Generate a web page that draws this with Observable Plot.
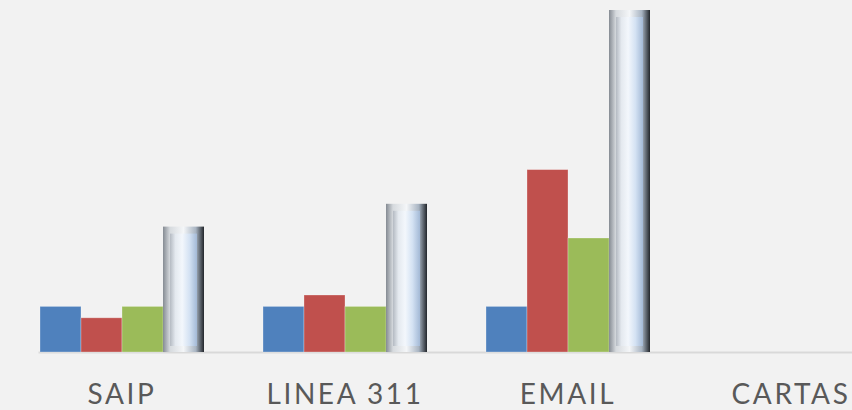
<!DOCTYPE html>
<html>
<head>
<meta charset="utf-8">
<script src="https://cdn.jsdelivr.net/npm/d3@7"></script>
<script src="https://cdn.jsdelivr.net/npm/@observablehq/plot@0.6"></script>
<style>
  html, body { margin: 0; padding: 0; background: #f2f2f2; overflow: hidden; width: 852px; height: 410px; }
  #chart { width: 852px; height: 410px; overflow: hidden; }
</style>
</head>
<body>
<div id="chart"></div>
<script>
const categories = ["SAIP", "LINEA 311", "EMAIL", "CARTAS"];
const seriesNames = ["Serie 1", "Serie 2", "Serie 3", "Serie 4"];
const serie1 = [4, 4, 4, 0];
const serie2 = [3, 5, 16, 0];
const serie3 = [4, 4, 10, 0];
const serie4 = [11, 13, 30, 0];
const seriesColors = ["#4f81bd", "#c0504d", "#9bbb59", "url(#bevelOuter)"];

const allSeries = [serie1, serie2, serie3, serie4];
const rows = [];
categories.forEach((c, i) => {
  allSeries.forEach((s, j) => rows.push({category: c, series: seriesNames[j], value: s[i]}));
});
const flat = rows.filter(d => d.series !== "Serie 4");
const bevel = rows.filter(d => d.series === "Serie 4" && d.value > 0);

const chart = Plot.plot({
  width: 903,
  height: 410,
  marginLeft: 10,
  marginRight: 0,
  marginTop: 10,
  marginBottom: 58,
  style: {background: "#f2f2f2", fontFamily: "Lato, sans-serif", letterSpacing: "2.6px", maxWidth: "none"},
  fx: {domain: categories, paddingInner: 0.258, paddingOuter: 0.13, label: null},
  x: {domain: seriesNames, padding: 0, axis: null},
  y: {domain: [0, 30], axis: null},
  color: {domain: seriesNames, range: seriesColors},
  marks: [
    Plot.frame({facet: "super", anchor: "bottom", stroke: "#d9d9d9", strokeWidth: 2}),
    Plot.barY(flat, {fx: "category", x: "series", y: "value", fill: "series", stroke: "#ffffff", strokeOpacity: 0.35, strokeWidth: 0.8}),
    Plot.barY(bevel, {fx: "category", x: "series", y: "value", fill: "url(#bevelOuter)"}),
    Plot.barY(bevel, {fx: "category", x: "series", y: "value", fill: "url(#bevelInner)", insetLeft: 7, insetRight: 7, insetTop: 7, insetBottom: 6}),
    Plot.axisFx({anchor: "bottom", tickSize: 0, tickPadding: 31.5, fontSize: 28, fill: "#595959", label: null})
  ]
});

const ns = "http://www.w3.org/2000/svg";
const defs = document.createElementNS(ns, "defs");
function grad(id, stops) {
  const g = document.createElementNS(ns, "linearGradient");
  g.setAttribute("id", id);
  g.setAttribute("x1", "0"); g.setAttribute("y1", "0");
  g.setAttribute("x2", "1"); g.setAttribute("y2", "0");
  stops.forEach(([o, c]) => {
    const s = document.createElementNS(ns, "stop");
    s.setAttribute("offset", o);
    s.setAttribute("stop-color", c);
    g.appendChild(s);
  });
  defs.appendChild(g);
}
grad("bevelOuter", [["0", "#858b93"], ["0.17", "#d6dade"], ["0.5", "#f4f6f8"], ["0.8", "#a8b4c2"], ["1", "#22262b"]]);
grad("bevelInner", [["0", "#b4bac2"], ["0.2", "#e4e9ef"], ["0.45", "#f3f7fc"], ["0.72", "#d4e2f3"], ["1", "#a3b9d6"]]);
chart.insertBefore(defs, chart.firstChild);

document.getElementById("chart").appendChild(chart);
</script>
</body>
</html>
